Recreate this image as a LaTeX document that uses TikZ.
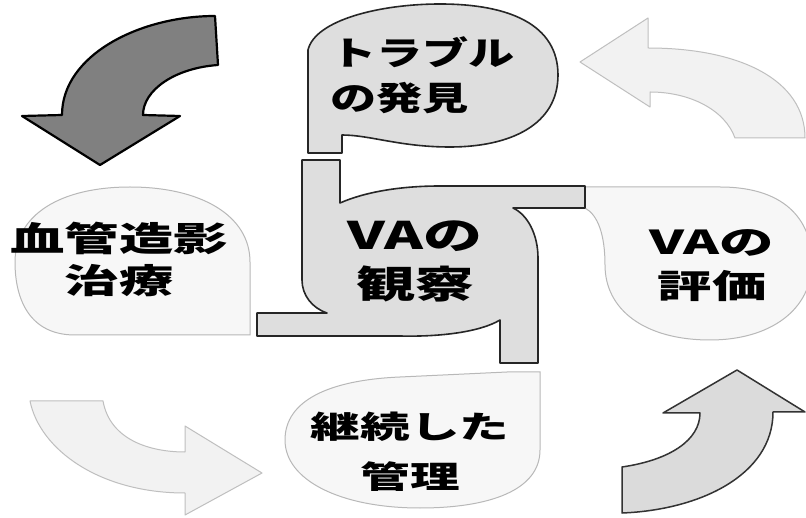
\documentclass[tikz,border=0pt]{standalone}
\usepackage{fontspec}
\newfontfamily\jp{Noto Sans CJK JP}
\newcommand\hsc[2]{\scalebox{#1}[1]{#2}}
\begin{document}
\begin{tikzpicture}[x=1pt,y=-1pt,
  darrow/.style={fill=black!50, draw=black, line width=2.2pt, line join=round},
  larrow/.style={fill=black!14, draw=black!80, line width=1.5pt, line join=round},
  farrow/.style={fill=black!5, draw=black!25, line width=1pt, line join=round},
  blob/.style={fill=black!13, draw=black!85, line width=1.6pt, line join=round},
  fblob/.style={fill=black!3, draw=black!28, line width=1pt},
  lbl/.style={inner sep=0pt, align=center}]
\fill[white] (0,0) rectangle (806,518);
\useasboundingbox (0,0) rectangle (806,518);

% faint blobs
\path[fblob] (250,335) -- (75,335) .. controls (30,335) and (15,300) .. (15,262)
  .. controls (15,215) and (60,187) .. (130,187) .. controls (200,187) and (250,215) .. (250,262) -- cycle;
\path[fblob] (585,187) -- (720,187) .. controls (790,187) and (812,225) .. (812,262)
  .. controls (812,310) and (770,340) .. (710,340) .. controls (645,340) and (605,310) .. (605,265)
  .. controls (605,235) and (598,215) .. (585,208) -- cycle;
\path[fblob] (507,372) -- (540,372) -- (540,450) .. controls (540,490) and (490,508) .. (420,508)
  .. controls (340,508) and (285,480) .. (285,440) .. controls (285,400) and (330,380) .. (400,377) -- cycle;

% arrows
\path[darrow] (215,16) -- (218,65) .. controls (175,68) and (143,90) .. (143,115)
  -- (180,116) -- (100,165) -- (22,116) -- (62,115)
  .. controls (62,55) and (140,16) .. (215,16) -- cycle;
\path[farrow] (580,62) -- (648,18) -- (648,48) .. controls (740,48) and (805,80) .. (805,138)
  -- (735,138) .. controls (725,110) and (690,92) .. (650,92) -- (650,107) -- cycle;
\path[farrow] (30,401) -- (103,401) .. controls (110,440) and (150,452) .. (185,452)
  -- (185,426) -- (262,473) -- (185,515) -- (185,493)
  .. controls (100,493) and (40,450) .. (30,401) -- cycle;
\path[larrow] (622,467) .. controls (670,460) and (700,440) .. (700,413) -- (663,413)
  -- (737,370) -- (805,412) -- (773,412) .. controls (773,475) and (700,510) .. (622,513) -- cycle;

% top blob
\path[blob] (308,153) -- (308,50) .. controls (315,20) and (380,4) .. (440,4)
  .. controls (510,4) and (558,25) .. (558,75) .. controls (558,125) and (510,147) .. (450,147)
  .. controls (400,147) and (370,135) .. (342,135) -- (342,153) -- cycle;

% central shape
\path[blob] (302,160) -- (340,160) -- (340,203) .. controls (365,192) and (400,186) .. (440,186)
  -- (585,186) -- (585,208) -- (513,208) .. controls (528,215) and (538,235) .. (538,258)
  -- (538,363) -- (500,363) -- (500,320) .. controls (480,332) and (440,337) .. (400,336)
  -- (257,336) -- (257,313) -- (327,313) .. controls (312,308) and (302,295) .. (302,280) -- cycle;

% labels
\node[lbl, anchor=west, align=left, font={\jp\bfseries\fontsize{33}{45}\selectfont}] (trouble) at (330,75)
  {\hsc{1.4}{トラブル}\\\hsc{1.4}{の発見}};
\node[lbl, font={\jp\bfseries\fontsize{34}{42}\selectfont}] (angio) at (119,259)
  {\hsc{1.6}{血管造影}\\\hsc{1.6}{治療}};
\node[lbl, font={\jp\bfseries\fontsize{38}{49}\selectfont}] (obs) at (415,261)
  {\hsc{1.55}{VAの}\\\hsc{1.55}{観察}};
\node[lbl, font={\jp\bfseries\fontsize{33}{44}\selectfont}] (eval) at (712,266)
  {\hsc{1.65}{VAの}\\\hsc{1.65}{評価}};
\node[lbl, font={\jp\bfseries\fontsize{31}{50}\selectfont}] (cont) at (410,452)
  {\hsc{1.6}{継続した}\\\hsc{1.6}{管理}};
\end{tikzpicture}
\end{document}
